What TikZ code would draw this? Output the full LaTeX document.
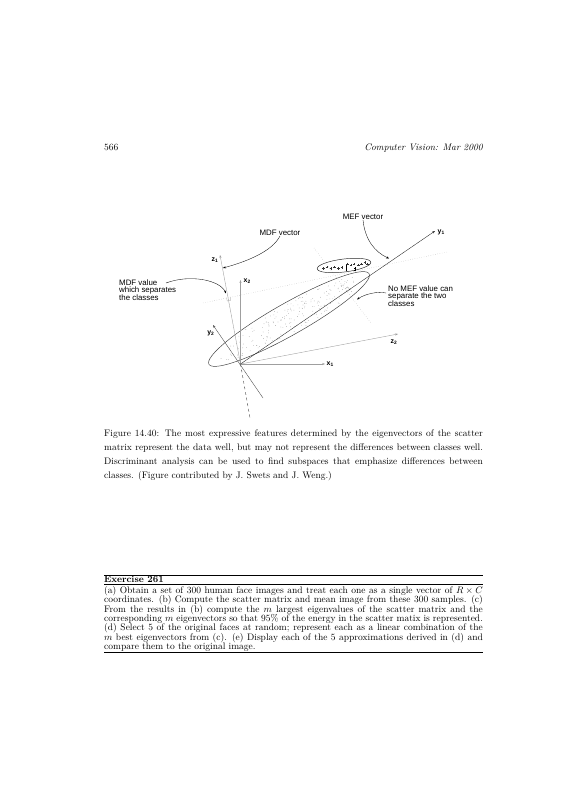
\documentclass[tikz,border=0pt]{standalone}
\usepackage{fontspec}
\newfontfamily\figfont{Liberation Sans}
\usetikzlibrary{arrows.meta}

\begin{document}
\begin{tikzpicture}[
    x=1.0536pt, y=-1.0536pt,
    axis/.style={gray!75, line width=0.4pt, -{Stealth[length=3pt,width=2.2pt]}},
    axlabel/.style={font={\figfont\bfseries\fontsize{7.3}{8}\selectfont}, inner sep=0.5pt},
    callout/.style={font={\figfont\fontsize{8.3}{7}\selectfont}, align=left, inner sep=0pt},
    pointer/.style={line width=0.35pt, -{Stealth[length=3pt,width=2.2pt]}},
    sepline/.style={gray!60, dotted, line width=0.45pt},
    bodytext/.style={inner sep=0pt, text width=399pt, align=justify, font=\fontsize{10}{15}\selectfont}
]
\useasboundingbox (0,0) rectangle (565,800);

% running head
\node[anchor=base west, inner sep=0pt, font=\fontsize{10}{12}\selectfont] (pagenum) at (104,151) {566};
\node[anchor=base east, inner sep=0pt, font=\fontsize{10}{12}\selectfont\itshape] (runhead) at (483,151) {Computer Vision: Mar 2000};

% axes through the origin
\coordinate (O) at (240.5,364);
\coordinate (x1end) at (325,364);
\coordinate (x2end) at (240.5,280);
\coordinate (z1end) at (220,255);
\coordinate (z1low) at (250,418);
\coordinate (y2end) at (213,325);
\coordinate (y2low) at (263,398);
\coordinate (y1end) at (435,231);
\coordinate (z2end) at (398,334);

% separating lines
\draw[sepline] (203,303) -- (447,252);
\draw[sepline] (314,248) -- (371,323);
\draw[gray!70, line width=0.3pt] (226.5,297.5) -- (227.2,301) -- (230.8,300.3) -- (230.1,296.8);
\draw[gray!70, line width=0.3pt] (345,289) -- (347.7,286.9) -- (349.8,289.7) -- (347.1,291.8);

% large class
\begin{scope}[shift={(289,319)}, rotate=29.5]
  \pgfmathsetseed{7}
  \foreach \i in {1,...,200} {
    \pgfmathsetmacro{\dotr}{0.9*sqrt(rnd)}
    \pgfmathsetmacro{\dota}{360*rnd}
    \fill[gray!75] ({92*\dotr*cos(\dota)},{16*\dotr*sin(\dota)}) circle[radius=0.4pt];
  }
  \draw[black!75, line width=0.5pt] (0,0) ellipse [x radius=92, y radius=16];
\end{scope}

% small class
\begin{scope}[shift={(344,265.5)}, rotate=7]
  \draw[black!85, line width=0.5pt] (0,0) ellipse [x radius=27, y radius=6.5];
\end{scope}
\foreach \px/\py in {323.3/268.3, 326.7/267, 330.7/268.3, 334.3/267, 338.3/268.3, 341.7/267.3,
    347.3/263.7, 350.7/265, 354/264, 358.3/265, 361.3/263.7, 364.7/262.3, 367.3/264}
  \draw[black!80, line width=0.25pt] (\px-1.2,\py) -- (\px+1.2,\py) (\px,\py-1.2) -- (\px,\py+1.2);
\draw[line width=0.45pt] (346,264.5) -- (346,270.5);
\draw[line width=0.25pt] (353.8,268.3) -- (356.2,268.3) (355,267.1) -- (355,269.5) (353.8,270.6) -- (356.2,270.6);

\draw[axis] (O) -- (x1end);
\draw[axis] (O) -- (x2end);
\draw[axis] (O) -- (z2end);
\draw[axis] (O) -- (z1end);
\draw[black!80, dashed, line width=0.4pt] (O) -- (z1low);
\draw[axis, black!70] (y2low) -- (y2end);
\draw[axis, black!85] (O) -- (y1end);

\node[axlabel, anchor=west] (lx1) at (326,364) {x\textsubscript{1}};
\node[axlabel, anchor=west] (lx2) at (243,281) {x\textsubscript{2}};
\node[axlabel, anchor=east] (lz1) at (219,260) {z\textsubscript{1}};
\node[axlabel, anchor=east] (ly2) at (215,333) {y\textsubscript{2}};
\node[axlabel, anchor=west] (ly1) at (437,232) {y\textsubscript{1}};
\node[axlabel, anchor=west] (lz2) at (390,342) {z\textsubscript{2}};

% callouts
\node[callout] (mefvec) at (363,217) {MEF vector};
\node[callout] (mdfvec) at (280,233) {MDF vector};
\node[callout, anchor=north west] (mdfval) at (119,280) {MDF value\\which separates\\the classes};
\node[callout, anchor=north west] (nomef) at (388,286) {No MEF value can\\separate the two\\classes};

\coordinate (mefpt) at (389,258.5);
\coordinate (mdfpt) at (223,268);
\coordinate (mdfvalstart) at (166,283);
\coordinate (sepz) at (226,293.5);
\coordinate (nomefstart) at (386,293);
\coordinate (sepy) at (357,299.5);

\draw[pointer] (mefvec.south) .. controls (365,240) and (375,252) .. (mefpt);
\draw[pointer] (mdfvec.south) .. controls (272,252) and (245,262) .. (mdfpt);
\draw[pointer] (mdfvalstart) .. controls (190,274) and (220,280) .. (sepz);
\draw[pointer] (nomefstart) .. controls (378,291) and (365,294) .. (sepy);

% caption
\node[bodytext, anchor=north west] (caption) at (104,429.4) {Figure 14.40: The most expressive features determined by the eigenvectors of the scatter\linebreak matrix represent the data well, but may not represent the differences between classes well.\linebreak Discriminant analysis can be used to find subspaces that emphasize differences between\linebreak classes. (Figure contributed by J. Swets and J. Weng.)};

% exercise
\draw[line width=0.6pt] (104,575) -- (483,575);
\node[anchor=base west, inner sep=0pt, font=\fontsize{10}{12}\selectfont\bfseries] (exhead) at (104,582) {Exercise 261};
\draw[line width=0.6pt] (104,584.5) -- (483,584.5);
\node[bodytext, anchor=north west, font={\fontsize{10}{9.83}\selectfont\lineskiplimit=-20pt}] (exercise) at (104,586.2) {(a) Obtain a set of 300 human face images and treat each one as a single vector of $R \times C$\linebreak coordinates. (b) Compute the scatter matrix and mean image from these 300 samples. (c)\linebreak From the results in (b) compute the $m$ largest eigenvalues of the scatter matrix and the\linebreak corresponding $m$ eigenvectors so that 95\% of the energy in the scatter matix is represented.\linebreak (d) Select 5 of the original faces at random; represent each as a linear combination of the\linebreak $m$ best eigenvectors from (c). (e) Display each of the 5 approximations derived in (d) and\linebreak compare them to the original image.};
\draw[line width=0.6pt] (104,652) -- (483,652);
\end{tikzpicture}
\end{document}
